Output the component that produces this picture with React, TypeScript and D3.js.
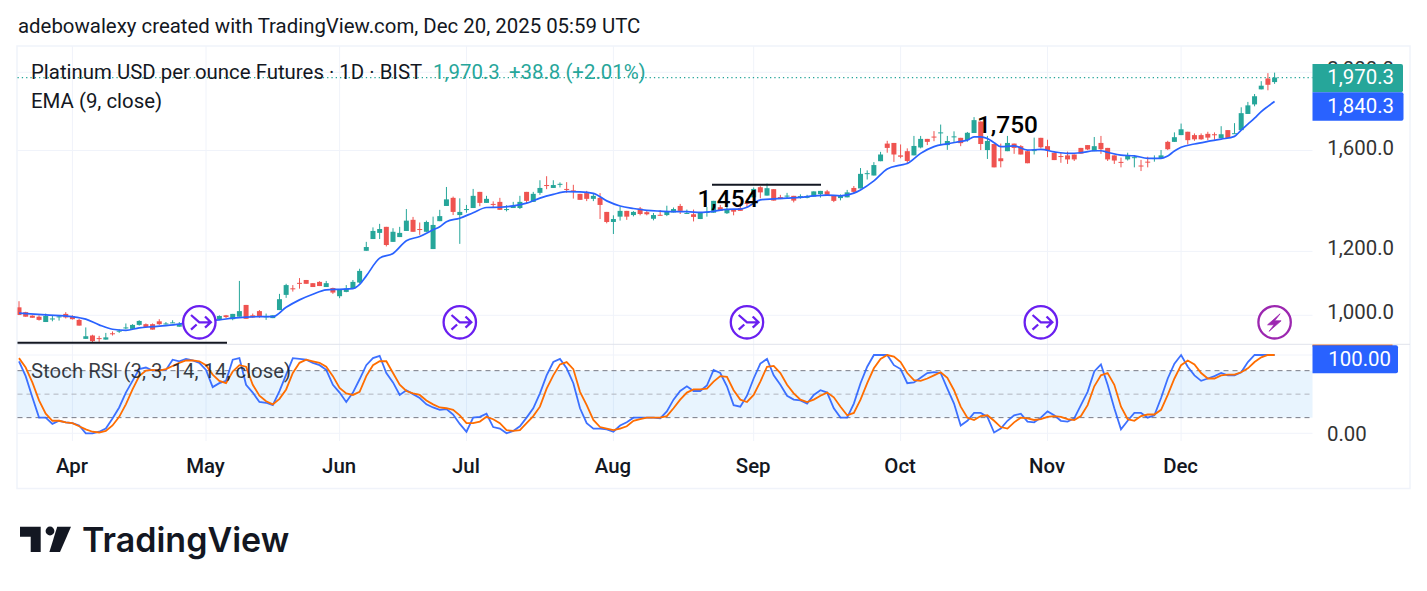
import React from "react";
import * as d3 from "d3";

const open = [
  1023,1009,999,996,981,989,994,1004,998,987,
  935,944,937,933,950,956,964,962,973,975,
  975,983,976,979,968,975,978,972,980,985,
  989,1000,989,996,1030,1000,1012,995,992,1015,
  1060,1080,1097,1106,1096,1100,1084,1081,1056,1069,
  1079,1098,1202,1243,1265,1287,1233,1250,1272,1313,
  1279,1269,1208,1308,1366,1398,1331,1353,1358,1422,
  1378,1374,1382,1352,1358,1358,1422,1382,1418,1450,
  1438,1453,1434,1428,1414,1417,1394,1398,1343,1305,
  1325,1347,1331,1356,1342,1317,1332,1331,1341,1366,
  1338,1334,1316,1341,1340,1361,1338,1353,1358,1378,
  1400,1441,1407,1433,1401,1405,1406,1404,1398,1403,
  1413,1424,1407,1397,1400,1438,1436,1499,1490,1552,
  1632,1635,1578,1597,1578,1614,1654,1665,1684,1625,
  1664,1659,1648,1682,1738,1602,1630,1565,1597,1632,
  1620,1597,1599,1659,1620,1590,1575,1578,1582,1612,
  1625,1597,1635,1612,1578,1549,1560,1567,1533,1550,
  1564,1564,1640,1640,1672,1688,1672,1672,1678,1676,
  1657,1696,1680,1696,1776,1825,1905,1965,1945,
];
const high = [
  1041,1010,1000,1000,1005,998,1000,1009,1000,990,
  966,946,943,951,955,961,977,975,986,977,
  977,989,981,986,981,980,982,982,987,992,
  1000,1001,1004,1103,1030,1005,1015,1005,1000,1063,
  1094,1090,1112,1106,1096,1102,1103,1082,1077,1090,
  1106,1142,1233,1285,1298,1287,1282,1287,1354,1324,
  1303,1310,1325,1351,1442,1403,1396,1370,1434,1422,
  1406,1384,1398,1369,1382,1406,1422,1422,1470,1487,
  1470,1461,1462,1451,1414,1426,1417,1417,1343,1330,
  1363,1347,1346,1362,1346,1339,1350,1367,1360,1374,
  1352,1352,1340,1362,1386,1370,1362,1353,1374,1395,
  1440,1445,1456,1433,1410,1418,1406,1412,1410,1424,
  1426,1430,1407,1412,1430,1446,1522,1512,1548,1594,
  1645,1635,1628,1610,1668,1668,1654,1691,1723,1668,
  1690,1659,1687,1760,1738,1668,1630,1632,1668,1632,
  1625,1597,1660,1659,1650,1590,1590,1595,1582,1612,
  1625,1663,1668,1612,1578,1568,1590,1577,1558,1572,
  1578,1602,1645,1685,1728,1688,1680,1680,1688,1685,
  1715,1696,1730,1810,1838,1880,1950,1995,1998,
];
const low = [
  1001,996,993,985,981,983,985,991,988,971,
  935,925,927,933,944,951,961,962,971,967,
  960,973,974,978,968,972,970,970,978,983,
  989,992,986,996,990,993,993,987,992,1015,
  1051,1070,1079,1094,1084,1087,1084,1063,1050,1068,
  1079,1096,1202,1243,1243,1217,1233,1250,1272,1269,
  1258,1269,1208,1308,1366,1331,1226,1340,1358,1365,
  1378,1361,1351,1345,1358,1354,1374,1382,1410,1433,
  1438,1440,1418,1395,1390,1385,1385,1316,1300,1261,
  1310,1313,1326,1330,1330,1311,1330,1327,1341,1335,
  1337,1307,1316,1325,1340,1347,1335,1330,1347,1361,
  1400,1396,1407,1387,1393,1396,1380,1395,1396,1403,
  1399,1410,1381,1388,1400,1417,1436,1473,1490,1552,
  1590,1549,1565,1542,1578,1610,1625,1643,1625,1603,
  1635,1620,1641,1682,1602,1562,1525,1525,1597,1585,
  1582,1543,1582,1610,1570,1557,1545,1540,1553,1586,
  1602,1597,1585,1553,1540,1525,1555,1525,1509,1525,
  1550,1564,1602,1640,1672,1628,1645,1650,1648,1650,
  1657,1658,1678,1696,1776,1815,1905,1900,1935,
];
const close = [
  1001,996,993,987,998,991,997,994,989,971,
  942,929,936,939,949,957,966,973,984,967,
  960,975,977,980,975,978,972,980,985,990,
  998,995,1004,1012,990,994,996,997,1000,1047,
  1090,1079,1096,1094,1084,1087,1096,1067,1077,1079,
  1100,1135,1215,1272,1279,1222,1269,1265,1310,1269,
  1278,1305,1294,1327,1392,1343,1343,1354,1406,1378,
  1394,1373,1351,1354,1366,1382,1386,1414,1438,1449,
  1450,1455,1433,1425,1390,1394,1406,1370,1305,1316,
  1347,1325,1343,1335,1334,1331,1330,1344,1354,1347,
  1339,1324,1340,1343,1386,1347,1353,1344,1347,1377,
  1434,1420,1437,1387,1393,1407,1387,1405,1405,1424,
  1426,1410,1386,1407,1420,1422,1497,1500,1535,1582,
  1612,1582,1572,1553,1621,1654,1640,1664,1685,1644,
  1666,1634,1683,1745,1630,1644,1525,1552,1635,1612,
  1582,1543,1602,1615,1602,1557,1573,1560,1560,1586,
  1605,1620,1606,1560,1555,1547,1578,1570,1530,1547,
  1566,1578,1606,1662,1700,1648,1652,1652,1660,1674,
  1676,1658,1681,1780,1820,1868,1925,1930,1970.3,
];

const emaBars = [
  0,4,8,10,12,14,16,18,20,22,24,26,28,30,32,34,36,38,40,42,44,46,48,50,51,52,54,56,58,60,62,63,64,66,68,70,72,74,76,78,
  80,82,84,86,88,90,92,94,96,98,100,102,104,106,108,109,110,111,113,115,117,119,121,123,125,126,128,130,132,133,135,137,
  139,141,142,143,144,145,146,147,149,151,153,155,157,159,161,162,163,165,167,169,171,172,173,174,176,178,180,182,183,184,
  185,186,187,188,
];
const emaValues = [
  1006,1001,996,989,973,961,958,965,968,971,975,981,984,987,992,995,996,996,1023,1045,1062,1075,1077,1079,1092,1119,1177,1193,1237,1252,1276,1287,1306,1319,1340,1360,1361,1366,1377,1397,
  1412,1423,1422,1416,1386,1366,1356,1349,1346,1344,1344,1341,1345,1353,1354,1361,1377,1390,1394,1397,1400,1406,1409,1406,1417,1430,1467,1518,1535,1542,1587,1618,
  1631,1642,1648,1664,1664,1656,1636,1618,1621,1602,1605,1594,1587,1590,1599,1599,1592,1579,1576,1565,1565,1575,1598,1615,1630,1642,1653,1666,1696,1725,
  1755,1788,1815,1840.3,
];

const stochK = [
  92,73,46,20,20,12,16,14,13,10,
  0,0,2,6,19,33,52,67,82,84,
  80,81,81,94,92,95,93,90,81,59,
  64,67,94,96,62,52,40,39,36,54,
  75,96,95,94,90,87,81,62,52,40,
  52,69,87,96,99,77,65,49,55,50,
  45,37,33,30,31,24,12,2,20,21,
  25,8,6,0,3,9,20,32,51,74,
  91,95,83,64,32,13,6,6,5,2,
  10,14,20,20,20,20,19,28,43,54,
  60,54,54,61,81,77,60,36,34,48,
  70,89,95,74,62,48,43,42,38,49,
  55,52,32,20,20,38,64,85,100,100,
  100,87,82,64,65,71,77,78,77,57,
  38,10,16,26,26,21,1,6,16,23,
  25,15,14,20,28,23,16,15,19,36,
  53,79,88,62,32,5,16,26,26,20,
  23,45,70,89,100,85,74,67,70,73,
  77,74,74,78,91,100,100,100,100,
];
const stochD = [
  96,84,65,42,25,16,16,14,13,9,
  5,2,1,3,10,21,37,56,73,80,
  81,80,82,86,90,93,93,92,87,75,
  67,64,79,87,85,62,48,41,37,44,
  56,77,90,94,92,90,85,73,58,51,
  49,53,73,87,92,92,77,62,54,51,
  49,42,37,33,32,30,23,13,13,15,
  21,18,13,4,3,4,13,22,34,57,
  74,88,91,82,53,36,17,8,6,4,
  6,9,16,18,20,20,20,22,32,43,
  52,56,56,57,66,73,72,55,43,40,
  49,66,85,86,77,62,51,43,40,43,
  48,52,46,34,23,26,43,64,83,95,
  100,98,91,77,68,67,70,74,78,71,
  55,34,20,17,22,23,16,8,6,14,
  20,19,17,18,21,22,21,18,17,22,
  36,60,74,77,62,34,18,16,22,24,
  24,30,49,70,87,93,88,77,70,70,
  74,75,75,78,83,91,97,100,100,
];

const monthLabels = ["Apr", "May", "Jun", "Jul", "Aug", "Sep", "Oct", "Nov", "Dec"];
const monthBars = [8, 28, 48, 67, 89, 110, 132, 154, 174];
const priceTicks = [1000, 1200, 1600, 2000];
const lastPrice = 1970.3;
const lastEma = 1840.3;
const stochLevels = [80, 50, 20];
const signalBars = [27, 66, 109, 153];
const boltBar = 188;

const fmt = d3.format(",.1f");
const UP = "#26a69a";
const DOWN = "#ef5350";
const BLUE = "#2962ff";
const ORANGE = "#ff6d00";
const GRID = "#f0f3fa";
const FONT = "Roboto, sans-serif";
const FS = 20.4;

const x = d3.scaleLinear().domain([0, 188]).range([19, 1274.6]);
const y = d3.scaleLog().domain([1000, 2000]).range([315.3, 72.3]);
const ys = d3.scaleLinear().domain([0, 100]).range([433.3, 355]);

const emaLine = d3.line<number>()
  .x((_, i) => x(emaBars[i]))
  .y((v) => y(v))
  .curve(d3.curveMonotoneX);
const stochLine = d3.line<number>()
  .x((_, i) => x(i))
  .y((v) => ys(v));

const PANE_L = 17.5;
const PANE_R = 1312.5;

function SignalIcon({ cx, cy }: { cx: number; cy: number }) {
  const c = "#6a1ff0";
  return (
    <g transform={`translate(${cx},${cy})`}>
      <circle r={16.2} fill="#fff" stroke={c} strokeWidth={2.3} />
      <path
        d="M-8.3,-7.3 L0,0 L11.5,0 M5.7,-5.8 L11.5,0 L5.7,5.4 M-8.3,7.3 L-2.7,2.2"
        fill="none"
        stroke={c}
        strokeWidth={2.3}
      />
    </g>
  );
}

function BoltIcon({ cx, cy }: { cx: number; cy: number }) {
  const c = "#9c27b0";
  return (
    <g transform={`translate(${cx},${cy})`}>
      <circle r={16.2} fill="#fff" stroke={c} strokeWidth={2.3} />
      <path d="M5.5,-8.5 L-7,2.5 L-0.5,2.5 L-5.5,9 L6.5,-1.5 L0,-1.5 Z" fill={c} stroke={c} strokeWidth={0.8} />
    </g>
  );
}

function Tag({ top, h, right, fill }: { top: number; h: number; right: number; fill: string }) {
  return (
    <path
      d={`M${PANE_R},${top} H${right - 2} Q${right},${top} ${right},${top + 2} V${top + h - 2} Q${right},${top + h} ${right - 2},${top + h} H${PANE_R} Z`}
      fill={fill}
    />
  );
}

export default function App() {
  const bars = d3.range(open.length);
  return (
    <svg
      width={1427}
      height={591}
      viewBox="0 0 1427 591"
      style={{ position: "absolute", left: 0, top: 0, display: "block", background: "#fff" }}
      fontFamily={FONT}
    >
      <defs>
        <clipPath id="pane1"><rect x={PANE_L} y={46} width={PANE_R - PANE_L} height={298} /></clipPath>
        <clipPath id="pane2"><rect x={PANE_L} y={345} width={PANE_R - PANE_L} height={100} /></clipPath>
      </defs>

      <text x={18} y={33} fontSize={FS} fill="#131722">adebowalexy created with TradingView.com, Dec 20, 2025 05:59 UTC</text>

      {/* frame */}
      <rect x={17} y={46} width={1393} height={442.5} fill="none" stroke="#f0f3fa" strokeWidth={1.5} />

      {/* grid */}
      {monthBars.map((b, i) => (
        <line key={i} x1={x(b)} x2={x(b)} y1={46} y2={441} stroke={GRID} strokeWidth={1} />
      ))}
      {priceTicks.map((t) => (
        <line key={t} x1={PANE_L} x2={PANE_R} y1={y(t)} y2={y(t)} stroke={GRID} strokeWidth={1} />
      ))}
      {[0, 100].map((t) => (
        <line key={t} x1={PANE_L} x2={PANE_R} y1={ys(t)} y2={ys(t)} stroke={GRID} strokeWidth={1} />
      ))}
      <line x1={PANE_L} x2={1410} y1={344.3} y2={344.3} stroke="#e0e3eb" strokeWidth={1} />

      {/* axis labels */}
      {priceTicks.map((t) => (
        <text key={t} x={1394} y={y(t) - 3} fontSize={FS} textAnchor="end" dominantBaseline="central" fill="#333">
          {fmt(t)}
        </text>
      ))}
      <text x={1327} y={ys(0) + 0.7} fontSize={FS} dominantBaseline="central" fill="#333">0.00</text>

      {/* last price */}
      <line x1={PANE_L} x2={PANE_R} y1={y(lastPrice)} y2={y(lastPrice)} stroke={UP} strokeWidth={1.3} strokeDasharray="1.3 3" />

      {/* candles */}
      <g clipPath="url(#pane1)">
        {bars.map((i) => {
          const up = close[i] >= open[i];
          const c = up ? UP : DOWN;
          const top = y(Math.max(open[i], close[i]));
          const bot = y(Math.min(open[i], close[i]));
          return (
            <g key={i}>
              <line x1={x(i)} x2={x(i)} y1={y(high[i])} y2={y(low[i])} stroke={c} strokeWidth={1} />
              <rect x={x(i) - 2.5} y={top} width={5} height={Math.max(bot - top, 1)} fill={c} />
            </g>
          );
        })}
        <path d={emaLine(emaValues) ?? ""} fill="none" stroke={BLUE} strokeWidth={1.7} />
      </g>

      {/* pivots */}
      <line x1={PANE_L} x2={227} y1={342.7} y2={342.7} stroke="#131722" strokeWidth={2} />
      <line x1={712} x2={821} y1={184.7} y2={184.7} stroke="#131722" strokeWidth={2} />
      <text x={697.5} y={206.5} fontSize={24.4} fontWeight={500} fill="#000">1,454</text>
      <text x={977} y={133} fontSize={24.4} fontWeight={500} fill="#000">1,750</text>

      {/* signal icons */}
      {signalBars.map((b) => (
        <SignalIcon key={b} cx={x(b)} cy={322.3} />
      ))}
      <BoltIcon cx={x(boltBar)} cy={322.3} />

      {/* stoch */}
      <rect x={PANE_L} y={ys(80)} width={PANE_R - PANE_L} height={ys(20) - ys(80)} fill="#2196f3" fillOpacity={0.1} />
      {stochLevels.map((l) => (
        <line
          key={l}
          x1={PANE_L}
          x2={PANE_R}
          y1={ys(l)}
          y2={ys(l)}
          stroke={l === 50 ? "#b2b5be" : "#787b86"}
          strokeWidth={1}
          strokeDasharray="5 4"
        />
      ))}
      <g clipPath="url(#pane2)">
        <path d={stochLine(stochK) ?? ""} fill="none" stroke={BLUE} strokeWidth={1.8} strokeOpacity={0.9} />
        <path d={stochLine(stochD) ?? ""} fill="none" stroke={ORANGE} strokeWidth={1.8} />
      </g>

      {/* legend */}
      <text x={31} y={79} fontSize={FS} fill="#131722">Platinum USD per ounce Futures · 1D · BIST</text>
      <text x={433} y={79} fontSize={FS} fill={UP}>1,970.3</text>
      <text x={509} y={79} fontSize={FS} fill={UP}>+38.8 (+2.01%)</text>
      <text x={31} y={108} fontSize={FS} fill="#131722">EMA (9, close)</text>
      <text x={31} y={378} fontSize={FS} fill="#131722" fillOpacity={0.85}>Stoch RSI (3, 3, 14, 14, close)</text>

      {/* price tags */}
      <Tag top={64} h={28.3} right={1403} fill={UP} />
      <text x={1394} y={84} fontSize={FS} textAnchor="end" fill="#fff">{fmt(lastPrice)}</text>
      <Tag top={92.3} h={28.4} right={1403.5} fill={BLUE} />
      <text x={1394} y={113} fontSize={FS} textAnchor="end" fill="#fff">{fmt(lastEma)}</text>
      <rect x={PANE_R} y={344.6} width={80} height={2} fill={ORANGE} />
      <Tag top={345.2} h={28} right={1398} fill={BLUE} />
      <text x={1391} y={366} fontSize={FS} textAnchor="end" fill="#fff">100.00</text>

      {/* month labels */}
      {monthBars.map((b, i) => (
        <text key={i} x={x(b) - 0.5} y={473} fontSize={FS} fontWeight={500} textAnchor="middle" fill="#131722">
          {monthLabels[i]}
        </text>
      ))}

      {/* logo */}
      <g fill="#131722">
        <path d="M20,526.7 H40.7 V552 H30.7 V536.7 H20 Z" />
        <circle cx={50} cy={531} r={4.4} />
        <path d="M57.2,526.7 H71 L60,552 H49.4 Z" />
      </g>
      <text x={82} y={552} fontSize={34} fontWeight={600} fontFamily="Inter, sans-serif" fill="#131722">TradingView</text>
    </svg>
  );
}
